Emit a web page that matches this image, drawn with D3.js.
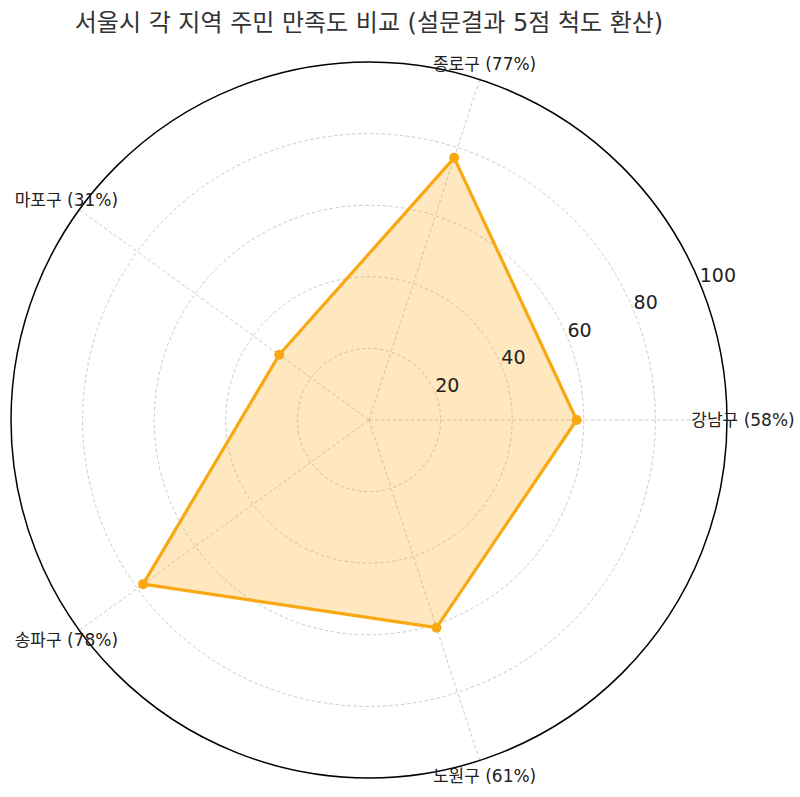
<!DOCTYPE html>
<html><head><meta charset="utf-8">
<script src="https://cdn.jsdelivr.net/npm/d3@7"></script>
<style>body{margin:0;background:#fff}svg{display:block}</style>
</head><body>
<script>
const title = "서울시 각 지역 주민 만족도 비교 (설문결과 5점 척도 환산)";
const categories = ["강남구", "종로구", "마포구", "송파구", "노원구"];
const values = [58, 77, 31, 78, 61];
const rTicks = [20, 40, 60, 80, 100];

const W = 800, H = 797, cx = 369, cy = 420, R = 358;
const FONT = "'DejaVu Sans','Noto Sans CJK KR',sans-serif";
const lineColor = "#F8A912";

const svg = d3.select("body").append("svg").attr("width", W).attr("height", H);
const r = d3.scaleLinear().domain([0, 100]).range([0, R]);
const ang = d3.scaleLinear().domain([0, categories.length]).range([0, 2 * Math.PI]);
const px = (a, rad) => cx + rad * Math.cos(a);
const py = (a, rad) => cy - rad * Math.sin(a);

const g = svg.append("g");
// grid circles
g.selectAll("circle.grid").data(rTicks.slice(0, -1)).enter().append("circle")
  .attr("cx", cx).attr("cy", cy).attr("r", d => r(d))
  .attr("fill", "none").attr("stroke", "#c4c4c4").attr("stroke-width", 0.9)
  .attr("stroke-dasharray", "3.5,2.5");
// spokes
g.selectAll("line.spoke").data(categories).enter().append("line")
  .attr("x1", cx).attr("y1", cy)
  .attr("x2", (d, i) => px(ang(i), r(100))).attr("y2", (d, i) => py(ang(i), r(100)))
  .attr("stroke", "#c4c4c4").attr("stroke-width", 0.9).attr("stroke-dasharray", "3.5,2.5");

// polygon
const pts = values.map((v, i) => [px(ang(i), r(v)), py(ang(i), r(v))]);
g.append("path").attr("d", d3.line()(pts) + "Z")
  .attr("fill", "#FFA500").attr("fill-opacity", 0.25)
  .attr("stroke", lineColor).attr("stroke-width", 3.2).attr("stroke-linejoin", "round");
g.selectAll("circle.pt").data(values).enter().append("circle")
  .attr("cx", (v, i) => px(ang(i), r(v))).attr("cy", (v, i) => py(ang(i), r(v)))
  .attr("r", 5).attr("fill", lineColor);

// outer circle
g.append("circle").attr("cx", cx).attr("cy", cy).attr("r", r(100))
  .attr("fill", "none").attr("stroke", "#000").attr("stroke-width", 1.5);

// r tick labels
const la = 22.5 * Math.PI / 180;
g.selectAll("text.rt").data(rTicks).enter().append("text")
  .attr("x", d => px(la, r(d))).attr("y", d => py(la, r(d)) - 1)
  .attr("font-family", FONT).attr("font-size", 19).attr("fill", "#222")
  .text(d => d);

// category labels
g.selectAll("text.cat").data(categories).enter().append("text")
  .attr("x", (d, i) => px(ang(i), 374)).attr("y", (d, i) => py(ang(i), 374))
  .attr("text-anchor", "middle").attr("dominant-baseline", "central")
  .attr("font-family", FONT).attr("font-size", 17).attr("fill", "#222")
  .text((d, i) => `${d} (${values[i]}%)`);

// title
svg.append("text").attr("x", cx).attr("y", 31).attr("text-anchor", "middle")
  .attr("font-family", FONT).attr("font-size", 24).attr("fill", "#333")
  .text(title);
</script>
</body></html>
